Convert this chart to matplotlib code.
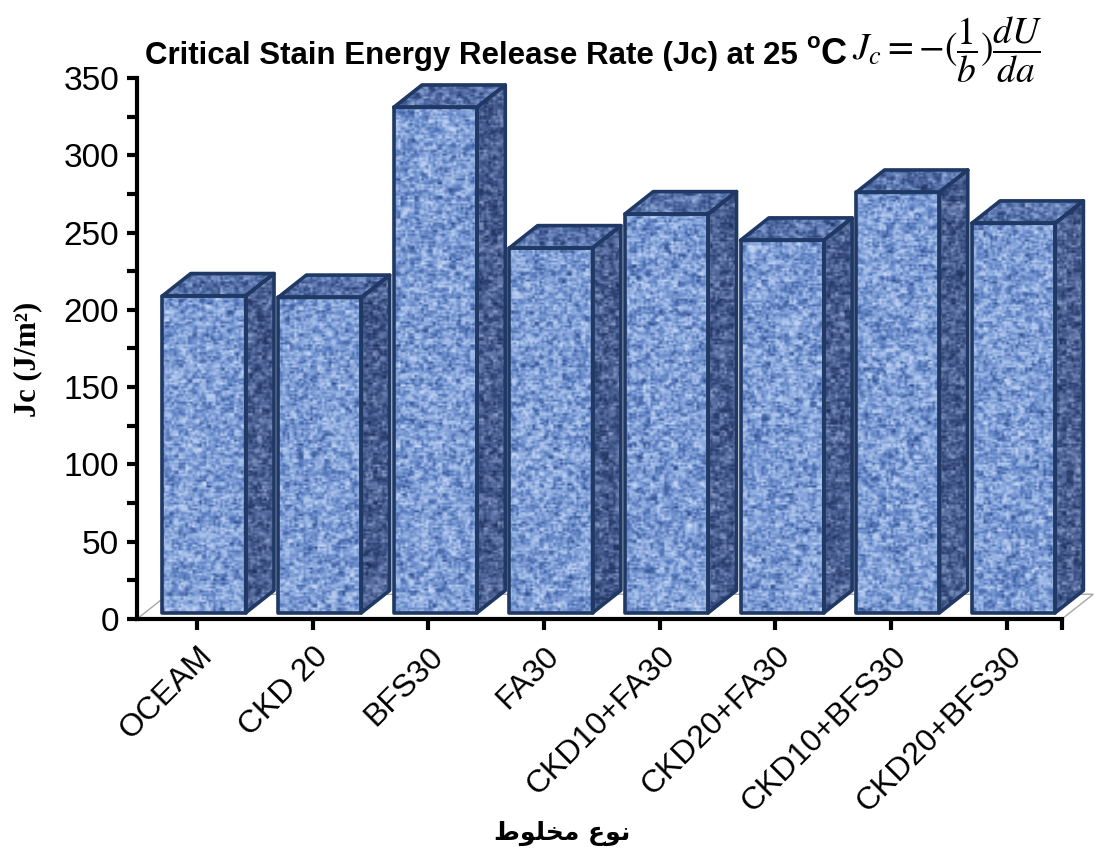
import numpy as np
import matplotlib
matplotlib.use("Agg")
import matplotlib.pyplot as plt
from matplotlib.patches import Polygon
from matplotlib.path import Path
from matplotlib.colors import LinearSegmentedColormap

# ---- data ----
categories = ['OCEAM', 'CKD 20', 'BFS30', 'FA30', 'CKD10+FA30',
              'CKD20+FA30', 'CKD10+BFS30', 'CKD20+BFS30']
jc_values = [205, 204, 327, 236, 258, 241, 272, 252]
y_ticks = [0, 50, 100, 150, 200, 250, 300, 350]

title_text = 'Critical Stain Energy Release Rate (Jc) at 25 '
formula_text = r'$J_c=-(\dfrac{1}{b})\dfrac{dU}{da}$'
ylabel_text = 'Jc (J/m\u00b2)'
# "نوع مخلوط" in shaped presentation forms, visual order
xlabel_text = '\uFEC1\uFEEE\uFEE0\uFEA8\uFEE3 \uFEC9\uFEEE\uFEE7'

W, H = 1094, 855
fig = plt.figure(figsize=(W / 100, H / 100), dpi=100)
ax_l, ax_r, ax_t, ax_b = 137, 1062, 78, 619
ax = fig.add_axes([ax_l / W, 1 - ax_b / H, (ax_r - ax_l) / W, (ax_b - ax_t) / H])

xmin, xmax = -0.52, 7.48
ax.set_xlim(xmin, xmax)
ax.set_ylim(0, 350)

edge = '#1F3864'
front_off, front_w = -0.30, 0.72
base = 4.0
ddx, ddy = 0.245, 14.5

# texture (decorative, deterministic)
def make_texture(nx, ny):
    def hashn(a, b):
        v = np.sin(a * 12.9898 + b * 78.233) * 43758.5453
        return v - np.floor(v)
    jy, jx = np.mgrid[0:ny, 0:nx]
    n1 = hashn(jx // 2, jy)
    n2 = hashn(jx + 7.0, jy // 2 + 3.0)
    n3 = hashn(jx // 3 + 11.0, jy // 3 + 5.0)
    t = 0.35 * n1 + 0.35 * n2 + 0.3 * n3
    return t

tex = make_texture(420, 300)

cm_front = LinearSegmentedColormap.from_list('f', ['#2B4783', '#5F82C4', '#9DB8E6', '#D2E0F7'])
cm_side = LinearSegmentedColormap.from_list('s', ['#17284D', '#33487A', '#5E74A6', '#9DAED3'])
cm_top = LinearSegmentedColormap.from_list('t', ['#1E335F', '#3F5A92', '#6D89C0', '#A9BDE3'])

# floor
fdx, fdy = 0.27, 16
floor = Polygon([(xmin, 0), (xmax, 0), (xmax + fdx, fdy), (xmin + fdx, fdy)],
                closed=True, facecolor='white', edgecolor='#A6A6A6', lw=1.0,
                clip_on=False, zorder=1)
ax.add_patch(floor)

front_polys, side_polys, top_polys = [], [], []
for i, v in enumerate(jc_values):
    x0 = i + front_off
    x1 = x0 + front_w
    y0 = base
    y1 = base + v
    front_polys.append([(x0, y0), (x1, y0), (x1, y1), (x0, y1)])
    side_polys.append([(x1, y0), (x1 + ddx, y0 + ddy), (x1 + ddx, y1 + ddy), (x1, y1)])
    top_polys.append([(x0, y1), (x1, y1), (x1 + ddx, y1 + ddy), (x0 + ddx, y1 + ddy)])

ext = (xmin, xmax + 0.4, 0, 370)
for polys, cmap in ((front_polys, cm_front), (side_polys, cm_side), (top_polys, cm_top)):
    paths = [Path(np.array(p + [p[0]]), closed=True) for p in polys]
    comp = Path.make_compound_path(*paths)
    im = ax.imshow(tex, extent=ext, origin='lower', cmap=cmap, aspect='auto',
                   interpolation='bilinear', zorder=2)
    im.set_clip_box(fig.bbox)
    im.set_clip_path(comp, ax.transData)
    for p in polys:
        ax.add_patch(Polygon(p, closed=True, facecolor='none', edgecolor=edge,
                             lw=2.6, joinstyle='round', clip_on=False, zorder=3))

ax.set_xlim(xmin, xmax)
ax.set_ylim(0, 350)

# axes styling
for s in ['top', 'right']:
    ax.spines[s].set_visible(False)
for s in ['left', 'bottom']:
    ax.spines[s].set_linewidth(3)
    ax.spines[s].set_color('black')
    ax.spines[s].set_zorder(4)

ax.set_yticks(y_ticks)
ax.set_yticks(np.arange(25, 350, 50), minor=True)
ax.set_yticklabels([str(t) for t in y_ticks], fontsize=24, fontfamily='Liberation Sans')
ax.tick_params(axis='y', which='both', direction='out', length=7, width=3, pad=6)

ax.set_xticks(range(len(categories)))
ax.set_xticks([xmax], minor=True)
ax.set_xticklabels(categories, rotation=45, ha='right', rotation_mode='anchor',
                   fontsize=23, fontfamily='Liberation Sans')
ax.tick_params(axis='x', which='both', direction='out', length=8, width=3, pad=8)

ax.set_ylabel(ylabel_text, fontsize=22, fontweight='bold', fontfamily='Liberation Serif')
ax.yaxis.set_label_coords(-(137 - 42) / (ax_r - ax_l), 0.48)

fig.text(562 / W, 1 - 833 / H, xlabel_text, ha='center', va='center', fontsize=18,
         fontweight='bold', family=['DejaVu Sans'])

# title
renderer = fig.canvas.get_renderer()
t1 = fig.text(145 / W, 1 - 56 / H, title_text, ha='left', va='center', fontsize=22.5,
              fontweight='bold', fontfamily='Liberation Sans')
bb = t1.get_window_extent(renderer)
t2 = fig.text(bb.x1 / W, 1 - 42 / H, 'o', ha='left', va='center', fontsize=16,
              fontweight='bold', fontfamily='Liberation Sans')
bb2 = t2.get_window_extent(renderer)
t3 = fig.text(bb2.x1 / W, 1 - 54 / H, 'C', ha='left', va='center', fontsize=26,
              fontweight='bold', fontfamily='Liberation Sans')
bb3 = t3.get_window_extent(renderer)
fig.text(bb3.x1 / W + 0.005, 1 - 50 / H, formula_text, ha='left', va='center',
         fontsize=27, math_fontfamily='stix')

fig.savefig('out.png', dpi=100)
